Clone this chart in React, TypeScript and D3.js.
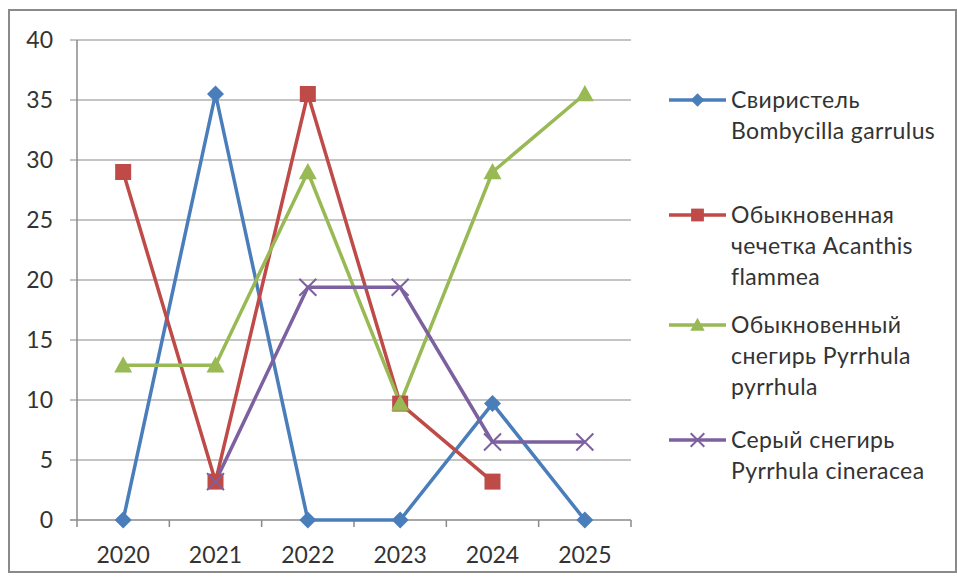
import { useEffect, useRef } from 'react';
import * as d3 from 'd3';

const years = ['2020', '2021', '2022', '2023', '2024', '2025'];
const yTicks = [0, 5, 10, 15, 20, 25, 30, 35, 40];

const waxwing = [0, 35.5, 0, 0, 9.7, 0];
const redpoll = [29, 3.2, 35.5, 9.7, 3.2, null];
const bullfinch = [12.9, 12.9, 29, 9.7, 29, 35.5];
const greyBullfinch = [null, 3.2, 19.4, 19.4, 6.5, 6.5];

const series = [
  { name: ['Свиристель', 'Bombycilla garrulus'], values: waxwing, color: '#4a7ebb', marker: 'diamond' },
  { name: ['Обыкновенная', 'чечетка Acanthis', 'flammea'], values: redpoll, color: '#be4b48', marker: 'square' },
  { name: ['Обыкновенный', 'снегирь Pyrrhula', 'pyrrhula'], values: bullfinch, color: '#98b954', marker: 'triangle' },
  { name: ['Серый снегирь', 'Pyrrhula cineracea'], values: greyBullfinch, color: '#7d60a0', marker: 'x' },
];

const FONT = 'Lato, "Open Sans", sans-serif';

function drawMarker(g, kind, cx, cy, color, scale = 1) {
  if (kind === 'diamond') {
    const r = 8.5 * scale;
    g.append('path')
      .attr('d', `M${cx},${cy - r}L${cx + r},${cy}L${cx},${cy + r}L${cx - r},${cy}Z`)
      .attr('fill', color);
  } else if (kind === 'square') {
    const r = 8 * scale;
    g.append('rect')
      .attr('x', cx - r)
      .attr('y', cy - r)
      .attr('width', 2 * r)
      .attr('height', 2 * r)
      .attr('fill', color);
  } else if (kind === 'triangle') {
    const r = 9 * scale;
    g.append('path')
      .attr('d', `M${cx},${cy - r}L${cx + r},${cy + r * 0.8}L${cx - r},${cy + r * 0.8}Z`)
      .attr('fill', color);
  } else {
    const r = 8.5 * scale;
    g.append('path')
      .attr('d', `M${cx - r},${cy - r}L${cx + r},${cy + r}M${cx + r},${cy - r}L${cx - r},${cy + r}`)
      .attr('stroke', color)
      .attr('stroke-width', 2)
      .attr('fill', 'none');
  }
}

export default function App() {
  const ref = useRef(null);

  useEffect(() => {
    const width = 957;
    const height = 583;
    const svg = d3.select(ref.current);
    svg.selectAll('*').remove();
    svg.attr('viewBox', `0 0 ${width} ${height}`);

    svg
      .append('rect')
      .attr('x', 9)
      .attr('y', 10)
      .attr('width', 947)
      .attr('height', 562)
      .attr('fill', '#fff')
      .attr('stroke', '#8a8a8a')
      .attr('stroke-width', 2);

    const left = 77;
    const right = 631;
    const top = 40;
    const bottom = 520;

    const x = d3.scaleBand().domain(years).range([left, right]);
    const y = d3.scaleLinear().domain([0, 40]).range([bottom, top]);

    // grid + y ticks
    svg
      .append('g')
      .selectAll('line')
      .data(yTicks.filter((t) => t > 0))
      .join('line')
      .attr('x1', left - 7)
      .attr('x2', right)
      .attr('y1', (t) => y(t))
      .attr('y2', (t) => y(t))
      .attr('stroke', '#c4c4c4')
      .attr('stroke-width', 2);

    svg
      .append('g')
      .selectAll('text')
      .data(yTicks)
      .join('text')
      .attr('x', 53)
      .attr('y', (t) => y(t) + 8)
      .attr('text-anchor', 'end')
      .attr('font-family', FONT)
      .attr('font-size', 23)
      .attr('fill', '#333')
      .text((t) => t);

    // axes
    svg
      .append('line')
      .attr('x1', left)
      .attr('x2', left)
      .attr('y1', top)
      .attr('y2', bottom)
      .attr('stroke', '#8a8a8a')
      .attr('stroke-width', 1.5);
    svg
      .append('line')
      .attr('x1', left - 7)
      .attr('x2', right)
      .attr('y1', bottom)
      .attr('y2', bottom)
      .attr('stroke', '#8a8a8a')
      .attr('stroke-width', 1.5);

    const bounds = years.map((yr) => x(yr)).concat([right]);
    svg
      .append('g')
      .selectAll('line')
      .data(bounds)
      .join('line')
      .attr('x1', (d) => d)
      .attr('x2', (d) => d)
      .attr('y1', bottom)
      .attr('y2', bottom + 7)
      .attr('stroke', '#8a8a8a')
      .attr('stroke-width', 1.5);

    svg
      .append('g')
      .selectAll('text')
      .data(years)
      .join('text')
      .attr('x', (d) => x(d) + x.bandwidth() / 2)
      .attr('y', 563)
      .attr('text-anchor', 'middle')
      .attr('font-family', FONT)
      .attr('font-size', 23)
      .attr('fill', '#333')
      .text((d) => d);

    const cx = (i) => x(years[i]) + x.bandwidth() / 2;

    series.forEach((s) => {
      const line = d3
        .line()
        .defined((v) => v !== null)
        .x((_, i) => cx(i))
        .y((v) => y(v));
      svg
        .append('path')
        .attr('d', line(s.values))
        .attr('fill', 'none')
        .attr('stroke', s.color)
        .attr('stroke-width', 3.5)
        .attr('stroke-linejoin', 'round');
    });

    series.forEach((s) => {
      const g = svg.append('g');
      s.values.forEach((v, i) => {
        if (v === null) return;
        drawMarker(g, s.marker, cx(i), y(v), s.color);
      });
    });

    // legend
    const legendTops = [100, 215, 325, 440];
    const lineH = 31;
    series.forEach((s, k) => {
      const ly = legendTops[k];
      const g = svg.append('g');
      g.append('line')
        .attr('x1', 669)
        .attr('x2', 726)
        .attr('y1', ly)
        .attr('y2', ly)
        .attr('stroke', s.color)
        .attr('stroke-width', 3.5);
      drawMarker(g, s.marker, 697.5, ly, s.color, 0.8);
      s.name.forEach((t, j) => {
        g.append('text')
          .attr('x', 731)
          .attr('y', ly + 8 + j * lineH)
          .attr('font-family', FONT)
          .attr('font-size', 23)
          .attr('letter-spacing', 0.4)
          .attr('fill', '#333')
          .text(t);
      });
    });
  }, []);

  return (
    <svg
      ref={ref}
      width={957}
      height={583}
      style={{ position: 'absolute', left: 0, top: 0, display: 'block' }}
      role="img"
      aria-label="Bird counts 2020-2025"
    />
  );
}
